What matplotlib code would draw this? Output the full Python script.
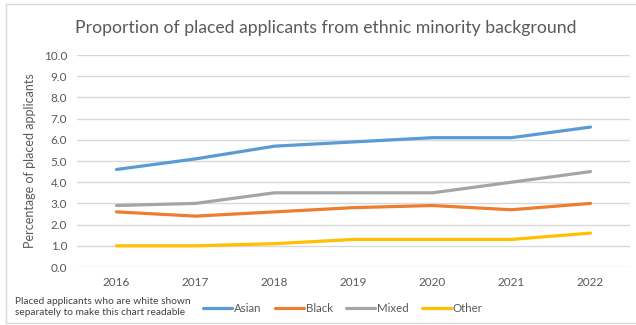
import matplotlib
matplotlib.use("Agg")
import matplotlib.pyplot as plt
from matplotlib.patches import Rectangle

years = ["2016", "2017", "2018", "2019", "2020", "2021", "2022"]
asian = [4.6, 5.1, 5.7, 5.9, 6.1, 6.1, 6.6]
black = [2.6, 2.4, 2.6, 2.8, 2.9, 2.7, 3.0]
mixed = [2.9, 3.0, 3.5, 3.5, 3.5, 4.0, 4.5]
other = [1.0, 1.0, 1.1, 1.3, 1.3, 1.3, 1.6]
series_names = ["Asian", "Black", "Mixed", "Other"]
colors = ["#5B9BD5", "#ED7D31", "#A5A5A5", "#FFC000"]
yticks = [0, 1, 2, 3, 4, 5, 6, 7, 8, 9, 10]

plt.rcParams['font.family'] = ['Lato', 'DejaVu Sans']

W, H = 636, 325
fig = plt.figure(figsize=(W / 100, H / 100), dpi=100)

def fx(px):
    return px / W

def fy(py):
    return 1 - py / H

# outer chart border
fig.patches.append(Rectangle((fx(6), fy(323)), fx(640) - fx(6), fy(4) - fy(323),
                             transform=fig.transFigure, fill=False,
                             edgecolor="#D9D9D9", linewidth=1.0))

ax = fig.add_axes([fx(77), fy(267), fx(630) - fx(77), fy(55) - fy(267)])
x = list(range(len(years)))
for vals, name, c in zip([asian, black, mixed, other], series_names, colors):
    ax.plot(x, vals, color=c, linewidth=2.3, label=name, solid_capstyle='round')

ax.set_xlim(-0.5, len(years) - 0.5)
ax.set_ylim(0, 10)
ax.set_yticks(yticks)
ax.set_yticklabels([f"{v:.1f}" for v in yticks])
ax.set_xticks(x)
ax.set_xticklabels(years)
ax.grid(axis='y', color="#D9D9D9", linewidth=1.0)
ax.set_axisbelow(True)
for s in ax.spines.values():
    s.set_visible(False)
ax.tick_params(axis='both', length=0, labelsize=8.5, colors="#595959")
ax.tick_params(axis='y', pad=7)
ax.tick_params(axis='x', pad=7)
ax.set_ylabel("Percentage of placed applicants", fontsize=9, color="#595959", labelpad=6)

fig.text(fx(326), fy(28), "Proportion of placed applicants from ethnic minority background",
         ha='center', va='center', fontsize=12.7, color="#595959")

fig.text(fx(15), fy(307), "Placed applicants who are white shown\nseparately to make this chart readable",
         ha='left', va='center', fontsize=7.3, color="#404040", linespacing=1.25)

leg = fig.legend(loc='center', bbox_to_anchor=(fx(343), fy(309)), ncol=4, frameon=False,
                 fontsize=8.3, handlelength=2.5, handletextpad=0.15, columnspacing=1.2,
                 borderaxespad=0)
for t in leg.get_texts():
    t.set_color("#595959")

fig.savefig("out.png", dpi=100)
